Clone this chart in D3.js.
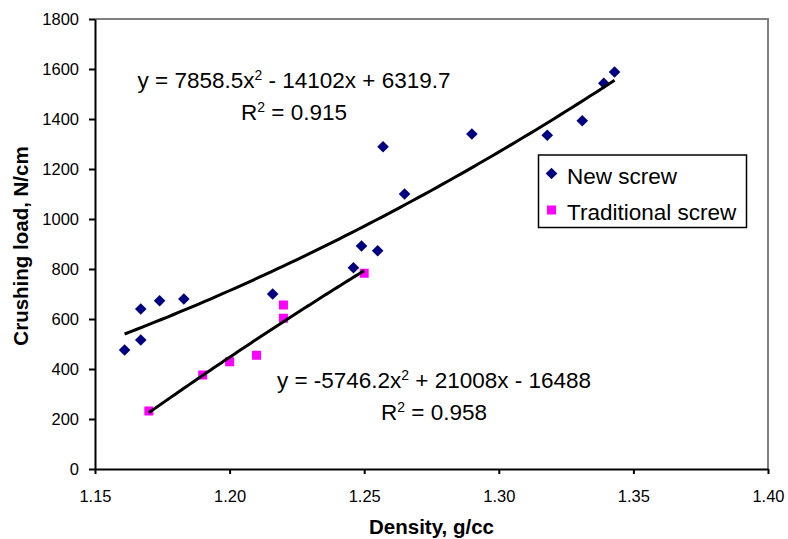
<!DOCTYPE html>
<html>
<head>
<meta charset="utf-8">
<script src="https://cdn.jsdelivr.net/npm/d3@7"></script>
<style>
  html, body { margin: 0; padding: 0; background: #fff; }
  svg { display: block; }
  text { font-family: "Liberation Sans", Arial, Helvetica, sans-serif; fill: #000; }
</style>
</head>
<body>
<svg id="chart" width="788" height="539"></svg>
<script>
// ---- data ----
const newDensity = [1.161, 1.167, 1.167, 1.174, 1.183, 1.216, 1.246, 1.249, 1.255, 1.257, 1.265, 1.290, 1.318, 1.331, 1.339, 1.343];
const newLoad    = [476, 516, 640, 673, 680, 700, 805, 892, 873, 1289, 1100, 1340, 1335, 1393, 1543, 1588];
const tradDensity = [1.17, 1.19, 1.20, 1.21, 1.22, 1.22, 1.25];
const tradLoad    = [232, 376, 429, 455, 656, 603, 783];
// trendline coefficients [a, b, c] for y = a x^2 + b x + c
const newCoef  = [7858.5, -14102, 6319.7];
const tradCoef = [-5746.2, 21008, -16488];
const xTicks = [1.15, 1.20, 1.25, 1.30, 1.35, 1.40];
const yTicks = [0, 200, 400, 600, 800, 1000, 1200, 1400, 1600, 1800];
const seriesNames = ["New screw", "Traditional screw"];

// ---- layout ----
const svg = d3.select("#chart");
const L = 95, R = 768, T = 19, B = 469;
const x = d3.scaleLinear().domain([1.15, 1.40]).range([L, R]);
const y = d3.scaleLinear().domain([0, 1800]).range([B, T]);

// plot frame (top & right grey)
svg.append("path")
  .attr("d", `M${L},${T}H${R}V${B}`)
  .attr("fill", "none").attr("stroke", "#808080").attr("stroke-width", 2);

// axes
const yAxis = svg.append("g").attr("transform", `translate(${L},0)`)
  .call(d3.axisLeft(y).tickValues(yTicks).tickSize(6).tickSizeOuter(0).tickPadding(10).tickFormat(d3.format("d")));
const xAxis = svg.append("g").attr("transform", `translate(0,${B})`)
  .call(d3.axisBottom(x).tickValues(xTicks).tickSize(5).tickSizeOuter(0).tickPadding(16).tickFormat(d3.format(".2f")));
[yAxis, xAxis].forEach(g => {
  g.select(".domain").attr("stroke", "#000").attr("stroke-width", 2);
  g.selectAll(".tick line").attr("stroke", "#000").attr("stroke-width", 2);
  g.selectAll(".tick text").attr("font-size", 16.5).attr("fill", "#000")
    .style("font-family", '"Liberation Sans", Arial, sans-serif');
});

// axis titles
svg.append("text").attr("x", (L + R) / 2).attr("y", 534)
  .attr("text-anchor", "middle").attr("font-size", 20.5).attr("font-weight", "bold")
  .text("Density, g/cc");
svg.append("text").attr("transform", `translate(28,${(T + B) / 2 + 2}) rotate(-90)`)
  .attr("text-anchor", "middle").attr("font-size", 20.5).attr("font-weight", "bold")
  .text("Crushing load, N/cm");

// markers
const diamond = s => `M0,${-s}L${s},0L0,${s}L${-s},0Z`;
const newPts = newDensity.map((d, i) => [d, newLoad[i]]);
const tradPts = tradDensity.map((d, i) => [d, tradLoad[i]]);

svg.append("g").selectAll("path").data(newPts).join("path")
  .attr("d", diamond(5.8))
  .attr("transform", d => `translate(${x(d[0])},${y(d[1])})`)
  .attr("fill", "#000080");

svg.append("g").selectAll("rect").data(tradPts).join("rect")
  .attr("x", d => x(d[0]) - 4.5).attr("y", d => y(d[1]) - 4.5)
  .attr("width", 9).attr("height", 9)
  .attr("fill", "#FF00FF");

// trendlines
function trend(coef, xs) {
  const lo = d3.min(xs), hi = d3.max(xs);
  const n = 80;
  return d3.range(n + 1).map(i => {
    const xv = lo + (hi - lo) * i / n;
    return [xv, coef[0] * xv * xv + coef[1] * xv + coef[2]];
  });
}
const line = d3.line().x(d => x(d[0])).y(d => y(d[1]));
[[newCoef, newDensity], [tradCoef, tradDensity]].forEach(([c, xs]) => {
  svg.append("path").datum(trend(c, xs))
    .attr("d", line).attr("fill", "none")
    .attr("stroke", "#000").attr("stroke-width", 3).attr("stroke-linejoin", "round");
});

// equations
function eqText(cx, by, coef, r2, fs) {
  const fmt = v => (Math.abs(v) >= 10000 ? d3.format("d")(Math.abs(v)) : String(Math.abs(v)));
  const t = svg.append("text").attr("x", cx).attr("y", by)
    .attr("text-anchor", "middle").attr("font-size", fs);
  t.append("tspan").text(`y = ${coef[0] < 0 ? "-" : ""}${fmt(coef[0])}x`);
  t.append("tspan").attr("dy", -8).attr("font-size", fs * 0.62).text("2");
  t.append("tspan").attr("dy", 8).text(` ${coef[1] < 0 ? "-" : "+"} ${fmt(coef[1])}x ${coef[2] < 0 ? "-" : "+"} ${fmt(coef[2])}`);
  const t2 = svg.append("text").attr("x", cx).attr("y", by + 32)
    .attr("text-anchor", "middle").attr("font-size", fs);
  t2.append("tspan").text("R");
  t2.append("tspan").attr("dy", -8).attr("font-size", fs * 0.62).text("2");
  t2.append("tspan").attr("dy", 8).text(` = ${r2}`);
}
eqText(294, 88, newCoef, "0.915", 22.5);
eqText(434, 388, tradCoef, "0.958", 22.5);

// legend
const lg = svg.append("g");
lg.append("rect").attr("x", 538.5).attr("y", 155).attr("width", 208).attr("height", 72.5)
  .attr("fill", "#fff").attr("stroke", "#000").attr("stroke-width", 1.5);
lg.append("path").attr("d", diamond(5.8)).attr("transform", "translate(551.5,173.5)").attr("fill", "#000080");
lg.append("rect").attr("x", 547).attr("y", 205.5).attr("width", 9).attr("height", 9).attr("fill", "#FF00FF");
lg.append("text").attr("x", 567).attr("y", 184).attr("font-size", 22.5).text(seriesNames[0]);
lg.append("text").attr("x", 567).attr("y", 220).attr("font-size", 22.5).text(seriesNames[1]);
</script>
</body>
</html>
